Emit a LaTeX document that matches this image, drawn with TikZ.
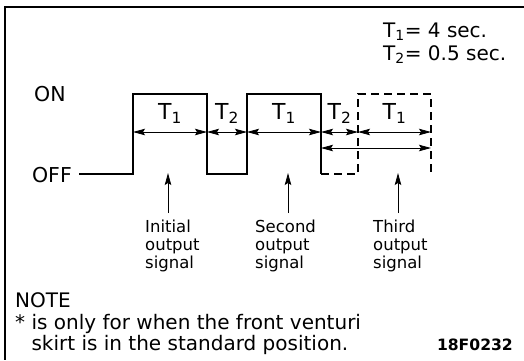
\documentclass[tikz,border=0pt]{standalone}
\usepackage{fontspec}
\setmainfont{DejaVu Sans}
\usetikzlibrary{arrows.meta, positioning}

\newcommand{\lines}[1]{\begin{tabular}{@{}l@{}}#1\end{tabular}}

\begin{document}
\begin{tikzpicture}[x=1pt, y=-1pt, >={Stealth[length=12pt, width=6.5pt, inset=2pt]},
  wave/.style={line width=1.9pt},
  dwave/.style={line width=1.9pt, dash pattern=on 8pt off 5pt},
  dim/.style={<->, line width=0.8pt},
  tlabel/.style={font=\fontsize{22}{24}\selectfont, inner sep=0pt},
  level/.style={font=\fontsize{20.5}{22}\selectfont, inner sep=0pt},
  sig/.style={font=\fontsize{16.5}{18}\selectfont, anchor=north west, inner sep=0pt},
  note/.style={font=\fontsize{20}{21.5}\selectfont, anchor=base west, inner sep=0pt}]

  \useasboundingbox (0,0) rectangle (524,360);
  \draw[line width=1.4pt] (524,7) -- (5,7) -- (5,360);

  % levels
  \coordinate (on) at (0,94);
  \coordinate (off) at (0,174);
  \node[level, anchor=base west] (ontxt) at (34,101) {ON};
  \node[level, anchor=base east] (offtxt) at (72,182) {OFF};

  % edges of the pulses, on the dimension row
  \coordinate (a0) at (133,132);
  \coordinate (a1) at (207,132);
  \coordinate (a2) at (247,132);
  \coordinate (a3) at (321,132);
  \coordinate (a4) at (358,132);
  \coordinate (a5) at (431,132);
  \coordinate (b3) at (321,148);
  \coordinate (b5) at (431,148);

  \draw[wave] ([xshift=7pt]offtxt.east |- off) -- (a0 |- off) -- (a0 |- on) -- (a1 |- on)
    -- (a1 |- off) -- (a2 |- off) -- (a2 |- on) -- (a3 |- on) -- (a3 |- off);
  \draw[dwave] (a3 |- off) -- (a4 |- off) -- (a4 |- on) -- (a5 |- on) -- (a5 |- off);

  \draw[dim] (a0) -- node[tlabel, above=8pt] (lt1) {T\textsubscript{1}} (a1);
  \draw[dim] (a1) -- node[tlabel, above=8pt] (lt2) {T\textsubscript{2}} (a2);
  \draw[dim] (a2) -- node[tlabel, above=8pt] (lt3) {T\textsubscript{1}} (a3);
  \draw[dim] (a3) -- node[tlabel, above=8pt] (lt4) {T\textsubscript{2}} (a4);
  \draw[dim] (a4) -- node[tlabel, above=8pt] (lt5) {T\textsubscript{1}} (a5);
  \draw[dim] (b3) -- (b5);

  % times
  \node[note] (time1) at (383,37) {T\textsubscript{1}= 4 sec.};
  \node[note] (time2) at (383,60) {T\textsubscript{2}= 0.5 sec.};

  % output signals
  \coordinate (s1) at (168,173);
  \coordinate (s2) at (288,173);
  \coordinate (s3) at (398,173);
  \node[sig] (first) at (145,220) {\lines{Initial\\output\\signal}};
  \node[sig] (second) at (255,220) {\lines{Second\\output\\signal}};
  \node[sig] (third) at (373,220) {\lines{Third\\output\\signal}};
  \draw[->, line width=0.8pt, shorten <=7pt] (first.north -| s1) -- (s1);
  \draw[->, line width=0.8pt, shorten <=7pt] (second.north -| s2) -- (s2);
  \draw[->, line width=0.8pt, shorten <=7pt] (third.north -| s3) -- (s3);

  % note
  \node[note] (note1) at (15,307) {NOTE};
  \node[note] (note2) at (15,329) {* is only for when the front venturi};
  \node[note] (note3) at (15,350) {\hphantom{* }skirt is in the standard position.};
  \node[font=\fontsize{15.6}{18}\selectfont\bfseries, anchor=base east, inner sep=0pt] (code) at (513,350) {18F0232};
\end{tikzpicture}
\end{document}
